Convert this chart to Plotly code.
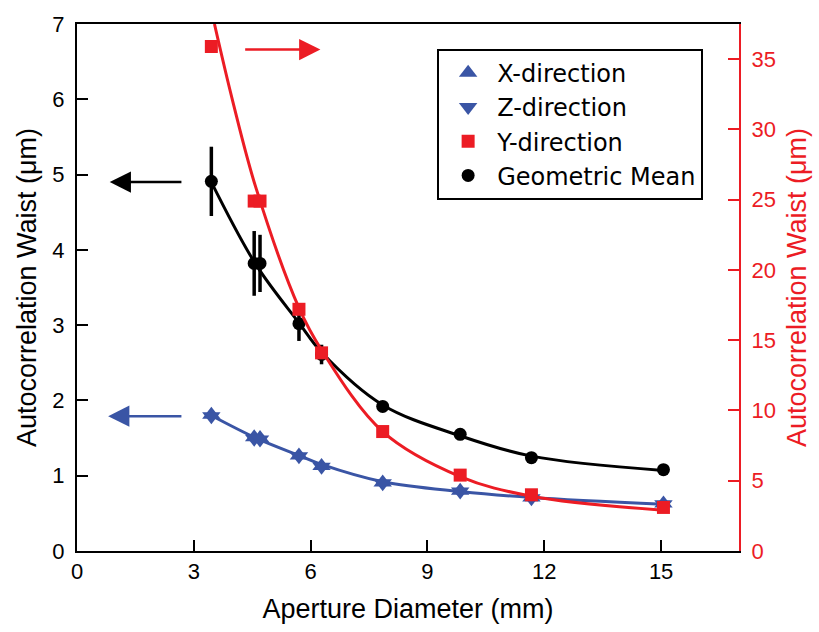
import plotly.graph_objects as go

# ---- data ----
aperture = [3.45, 4.55, 4.70, 5.70, 6.28, 7.85, 9.84, 11.67, 15.06]
geo_mean = [4.91, 3.82, 3.82, 3.02, 2.61, 1.92, 1.55, 1.24, 1.08]
geo_err = [0.46, 0.43, 0.38, 0.23, 0.13, 0.05, 0.05, 0.04, 0.03]
y_dir = [35.9, 24.9, 24.9, 17.2, 14.1, 8.5, 5.4, 4.0, 3.1]
x_dir = [1.81, 1.51, 1.50, 1.27, 1.13, 0.91, 0.80, 0.71, 0.63]
z_dir = [1.79, 1.49, 1.48, 1.26, 1.12, 0.90, 0.79, 0.70, 0.62]

# fit curves
fit_geo_x = [3.45, 4.6, 5.7, 6.28, 7.85, 9.84, 11.67, 15.06]
fit_geo_y = [4.90, 3.80, 3.03, 2.64, 1.94, 1.53, 1.26, 1.07]
fit_y_x = [3.53, 4.0, 4.6, 5.7, 6.28, 7.85, 9.84, 11.67, 15.06]
fit_y_y = [37.5, 32.0, 25.8, 17.3, 14.3, 8.5, 5.3, 3.9, 2.9]
fit_xz_x = [3.45, 4.6, 5.7, 6.28, 7.85, 9.84, 11.67, 15.06]
fit_xz_y = [1.80, 1.50, 1.27, 1.15, 0.92, 0.79, 0.71, 0.62]

x_ticks = [0, 3, 6, 9, 12, 15]
left_ticks = [0, 1, 2, 3, 4, 5, 6, 7]
right_ticks = [0, 5, 10, 15, 20, 25, 30, 35]

BLUE = "#3a55a5"
RED = "#ec1c24"
BLACK = "#000000"
FONT = "Liberation Sans, Arial, sans-serif"

fig = go.Figure()

# fit lines
fig.add_trace(go.Scatter(x=fit_y_x, y=fit_y_y, mode="lines", yaxis="y2",
                         line=dict(color=RED, width=3, shape="spline"),
                         showlegend=False, hoverinfo="skip"))
fig.add_trace(go.Scatter(x=fit_geo_x, y=fit_geo_y, mode="lines",
                         line=dict(color=BLACK, width=3, shape="spline"),
                         showlegend=False, hoverinfo="skip"))
fig.add_trace(go.Scatter(x=fit_xz_x, y=fit_xz_y, mode="lines",
                         line=dict(color=BLUE, width=3, shape="spline"),
                         showlegend=False, hoverinfo="skip"))

# data markers
fig.add_trace(go.Scatter(x=aperture, y=y_dir, mode="markers", yaxis="y2",
                         name="Y-direction",
                         marker=dict(symbol="square", size=13, color=RED)))
fig.add_trace(go.Scatter(x=aperture, y=geo_mean, mode="markers",
                         name="Geometric Mean",
                         error_y=dict(type="data", array=geo_err, color=BLACK,
                                      thickness=3.5, width=0),
                         marker=dict(symbol="circle", size=13, color=BLACK)))
fig.add_trace(go.Scatter(x=aperture, y=x_dir, mode="markers",
                         name="X-direction",
                         marker=dict(symbol="triangle-up", size=16, color=BLUE)))
fig.add_trace(go.Scatter(x=aperture, y=z_dir, mode="markers",
                         name="Z-direction",
                         marker=dict(symbol="triangle-down", size=16, color=BLUE)))

# arrows
arrows = [
    dict(x=0.84, y=4.90, ax=2.72, ay=4.90, color=BLACK),
    dict(x=0.80, y=1.79, ax=2.72, ay=1.79, color=BLUE),
    dict(x=6.25, y=6.66, ax=4.28, ay=6.66, color=RED),
]
for a in arrows:
    fig.add_annotation(x=a["x"], y=a["y"], ax=a["ax"], ay=a["ay"],
                       xref="x", yref="y", axref="x", ayref="y",
                       showarrow=True, arrowhead=2, arrowsize=1.7,
                       arrowwidth=2.5, arrowcolor=a["color"], text="")

fig.update_layout(
    width=819, height=632,
    margin=dict(l=77, r=78, t=20, b=81),
    plot_bgcolor="white", paper_bgcolor="white",
    font=dict(family=FONT, size=22, color=BLACK),
    showlegend=True,
    legend=dict(x=0.544, y=0.953, xanchor="left", yanchor="top",
                bgcolor="white", bordercolor=BLACK, borderwidth=2,
                font=dict(size=24, family="DejaVu Sans, Liberation Sans, sans-serif"),
                itemwidth=48,
                traceorder="normal", itemsizing="trace"),
    xaxis=dict(range=[0, 17], tickvals=x_ticks, ticks="inside", ticklen=11,
               tickwidth=1.5, tickcolor=BLACK, showline=True, linecolor=BLACK,
               linewidth=2, mirror=True, showgrid=False, zeroline=False,
               tickfont=dict(size=22),
               title=dict(text="Aperture Diameter (mm)", font=dict(size=27),
                          standoff=16)),
    yaxis=dict(range=[0, 7], tickvals=left_ticks, ticks="inside", ticklen=11,
               tickwidth=1.5, tickcolor=BLACK, showline=True, linecolor=BLACK,
               linewidth=2, showgrid=False, zeroline=False,
               tickfont=dict(size=22), ticklabelstandoff=6,
               title=dict(text="Autocorrelation Waist (μm)", font=dict(size=27),
                          standoff=8)),
    yaxis2=dict(range=[0, 37.5], tickvals=right_ticks, overlaying="y",
                side="right", ticks="inside", ticklen=11, tickwidth=1.5,
                tickcolor=RED, showline=True, linecolor=RED, linewidth=2,
                showgrid=False, zeroline=False,
                tickfont=dict(size=22, color=RED), ticklabelstandoff=6,
                title=dict(text="Autocorrelation Waist (μm)",
                           font=dict(size=27, color=RED), standoff=12)),
)

# legend order: X, Z, Y, Geometric Mean
order = {"X-direction": 1, "Z-direction": 2, "Y-direction": 3, "Geometric Mean": 4}
for t in fig.data:
    if t.name in order:
        t.legendrank = order[t.name]

fig.write_html("out.html")
